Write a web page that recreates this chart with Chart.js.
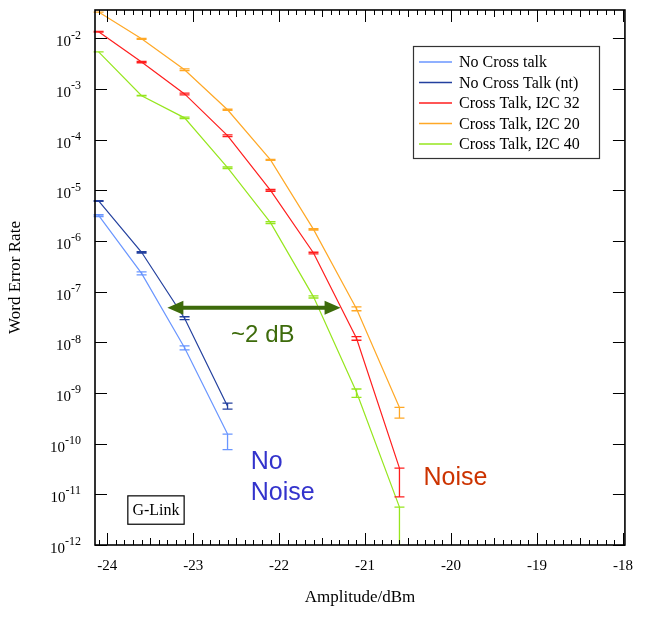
<!DOCTYPE html>
<html>
<head>
<meta charset="utf-8">
<script src="https://cdn.jsdelivr.net/npm/chart.js@4.4.1/dist/chart.umd.min.js"></script>
<style>
  html, body { margin: 0; padding: 0; background: #fff; }
  #wrap { width: 645px; height: 617px; }
</style>
</head>
<body>
<div id="wrap"><canvas id="werChart"></canvas></div>
<script>
// amplitude points (dBm) and word error rates
const amplitudes = [-24.1, -23.6, -23.1, -22.6, -22.1, -21.6, -21.1, -20.6];
const seriesNames = ['No Cross talk', 'No Cross Talk (nt)', 'Cross Talk, I2C 32', 'Cross Talk, I2C 20', 'Cross Talk, I2C 40'];

const noCrossTalk   = [3.2e-6, 2.3e-7, 7.8e-9, 1.55e-10];
const noCrossTalkLo = [3.05e-6, 2.15e-7, 7.1e-9, 7.6e-11];
const noCrossTalkHi = [3.3e-6, 2.45e-7, 8.5e-9, 1.55e-10];

const noCrossTalkNt   = [6.2e-6, 6.0e-7, 3.0e-8, 5.5e-10];
const noCrossTalkNtLo = [6.1e-6, 5.8e-7, 2.8e-8, 4.8e-10];
const noCrossTalkNtHi = [6.3e-6, 6.2e-7, 3.2e-8, 6.3e-10];

const i2c32   = [1.35e-2, 3.4e-3, 8.0e-4, 1.2e-4, 1.0e-5, 5.8e-7, 1.2e-8, 3.3e-11];
const i2c32Lo = [1.33e-2, 3.3e-3, 7.7e-4, 1.15e-4, 9.6e-6, 5.6e-7, 1.1e-8, 8.9e-12];
const i2c32Hi = [1.37e-2, 3.5e-3, 8.3e-4, 1.25e-4, 1.04e-5, 6.0e-7, 1.3e-8, 3.3e-11];

const i2c20   = [3.3e-2, 9.8e-3, 2.4e-3, 3.9e-4, 4.0e-5, 1.7e-6, 4.6e-8, 5.2e-10];
const i2c20Lo = [3.3e-2, 9.6e-3, 2.3e-3, 3.8e-4, 3.9e-5, 1.65e-6, 4.2e-8, 3.2e-10];
const i2c20Hi = [3.3e-2, 1.0e-2, 2.5e-3, 4.0e-4, 4.1e-5, 1.75e-6, 5.0e-8, 5.2e-10];

const i2c40   = [5.4e-3, 7.4e-4, 2.7e-4, 2.8e-5, 2.3e-6, 7.9e-8, 1.05e-9, 5.6e-12];
const i2c40Lo = [5.4e-3, 7.3e-4, 2.6e-4, 2.7e-5, 2.2e-6, 7.5e-8, 8.2e-10, 1e-13];
const i2c40Hi = [5.4e-3, 7.5e-4, 2.8e-4, 2.9e-5, 2.4e-6, 8.3e-8, 1.2e-9, 5.6e-12];

const xTickValues = [-24, -23, -22, -21, -20, -19, -18];
const yTickExps = [-2, -3, -4, -5, -6, -7, -8, -9, -10, -11, -12];

const colors = ['#6a96ff', '#23409e', '#ff1e1e', '#ffa826', '#96e61e'];
const serif = "'Liberation Serif', 'Times New Roman', serif";
const sans = "'Liberation Sans', Arial, sans-serif";

const allValues = [noCrossTalk, noCrossTalkNt, i2c32, i2c20, i2c40];
const allLo = [noCrossTalkLo, noCrossTalkNtLo, i2c32Lo, i2c20Lo, i2c40Lo];
const allHi = [noCrossTalkHi, noCrossTalkNtHi, i2c32Hi, i2c20Hi, i2c40Hi];

const datasets = allValues.map((vals, i) => ({
  label: seriesNames[i],
  data: vals.map((v, j) => ({ x: amplitudes[j], y: v })),
  borderColor: colors[i],
  backgroundColor: colors[i],
  borderWidth: 1.2,
  pointRadius: 0,
  tension: 0
}));

// error bars, ticks, frame, legend and notes
const decorPlugin = {
  id: 'decor',
  afterDatasetsDraw(chart) {
    const ctx = chart.ctx, xs = chart.scales.x, ys = chart.scales.y, a = chart.chartArea;
    ctx.save();
    ctx.beginPath();
    ctx.rect(a.left - 6, a.top, a.right - a.left + 12, a.bottom - a.top);
    ctx.clip();
    allValues.forEach((vals, i) => {
      ctx.strokeStyle = colors[i];
      ctx.lineWidth = 1.3;
      vals.forEach((v, j) => {
        const px = xs.getPixelForValue(amplitudes[j]);
        const pLo = ys.getPixelForValue(allLo[i][j]);
        const pHi = ys.getPixelForValue(allHi[i][j]);
        ctx.beginPath();
        ctx.moveTo(px, pLo); ctx.lineTo(px, pHi);
        ctx.moveTo(px - 5, pLo); ctx.lineTo(px + 5, pLo);
        ctx.moveTo(px - 5, pHi); ctx.lineTo(px + 5, pHi);
        ctx.stroke();
      });
    });
    ctx.restore();
  },
  afterDraw(chart) {
    const ctx = chart.ctx, xs = chart.scales.x, ys = chart.scales.y, a = chart.chartArea;
    ctx.save();
    // ticks
    ctx.strokeStyle = '#000';
    ctx.lineWidth = 1;
    ctx.beginPath();
    for (let k = -241; k <= -180; k++) {
      const px = Math.round(xs.getPixelForValue(k / 10)) + 0.5;
      const len = k % 10 === 0 ? 12 : (k % 5 === 0 ? 7 : 5);
      ctx.moveTo(px, a.bottom); ctx.lineTo(px, a.bottom - len);
      ctx.moveTo(px, a.top); ctx.lineTo(px, a.top + len);
    }
    yTickExps.forEach(e => {
      const py = Math.round(ys.getPixelForValue(Math.pow(10, e))) + 0.5;
      ctx.moveTo(a.left, py); ctx.lineTo(a.left + 12, py);
      ctx.moveTo(a.right, py); ctx.lineTo(a.right - 12, py);
    });
    ctx.stroke();
    // frame
    ctx.lineWidth = 1.6;
    ctx.strokeRect(a.left, a.top, a.right - a.left, a.bottom - a.top);

    // y tick labels 10^n
    ctx.fillStyle = '#000';
    ctx.textBaseline = 'middle';
    ctx.textAlign = 'right';
    yTickExps.forEach(e => {
      const py = ys.getPixelForValue(Math.pow(10, e));
      const sup = '-' + Math.abs(e);
      ctx.font = '12px ' + serif;
      const w = ctx.measureText(sup).width;
      ctx.fillText(sup, a.left - 14, py - 3);
      ctx.font = '15px ' + serif;
      ctx.fillText('10', a.left - 14 - w, py + 4);
    });

    // legend
    const lx = 413, ly = 46;
    ctx.lineWidth = 1.2;
    ctx.strokeStyle = '#333';
    ctx.strokeRect(lx + 0.5, ly + 0.5, 186, 112);
    ctx.textAlign = 'left';
    ctx.font = '16px ' + serif;
    seriesNames.forEach((name, i) => {
      const ry = 62 + i * 20.5;
      ctx.strokeStyle = colors[i];
      ctx.lineWidth = 1.5;
      ctx.beginPath();
      ctx.moveTo(419, ry); ctx.lineTo(452, ry);
      ctx.stroke();
      ctx.fillStyle = '#000';
      ctx.fillText(name, 459, ry + 1);
    });

    // ~2 dB arrow
    const green = '#3d6b0b';
    const ay = ys.getPixelForValue(4.8e-8);
    const ax1 = xs.getPixelForValue(-23.3), ax2 = xs.getPixelForValue(-21.285);
    ctx.strokeStyle = green; ctx.fillStyle = green;
    ctx.lineWidth = 4;
    ctx.beginPath();
    ctx.moveTo(ax1 + 12, ay); ctx.lineTo(ax2 - 12, ay);
    ctx.stroke();
    ctx.beginPath();
    ctx.moveTo(ax1, ay); ctx.lineTo(ax1 + 16, ay - 7); ctx.lineTo(ax1 + 16, ay + 7); ctx.closePath();
    ctx.moveTo(ax2, ay); ctx.lineTo(ax2 - 16, ay - 7); ctx.lineTo(ax2 - 16, ay + 7); ctx.closePath();
    ctx.fill();
    ctx.font = '24px ' + sans;
    ctx.textAlign = 'center';
    ctx.fillText('~2 dB', xs.getPixelForValue(-22.19), ys.getPixelForValue(Math.pow(10, -7.87)));

    // noise labels
    ctx.textAlign = 'left';
    ctx.font = '25px ' + sans;
    ctx.fillStyle = '#3333cc';
    const nx = xs.getPixelForValue(-22.33);
    ctx.fillText('No', nx, ys.getPixelForValue(Math.pow(10, -10.36)));
    ctx.fillText('Noise', nx, ys.getPixelForValue(Math.pow(10, -10.97)));
    ctx.fillStyle = '#cc3300';
    ctx.fillText('Noise', xs.getPixelForValue(-20.32), ys.getPixelForValue(Math.pow(10, -10.68)));

    // G-Link box
    const gx1 = xs.getPixelForValue(-23.76), gx2 = xs.getPixelForValue(-23.105);
    const gy1 = ys.getPixelForValue(Math.pow(10, -11.03)), gy2 = ys.getPixelForValue(Math.pow(10, -11.59));
    ctx.strokeStyle = '#000'; ctx.lineWidth = 1.2;
    ctx.strokeRect(gx1, gy1, gx2 - gx1, gy2 - gy1);
    ctx.fillStyle = '#000';
    ctx.font = '16px ' + serif;
    ctx.textAlign = 'center';
    ctx.fillText('G-Link', (gx1 + gx2) / 2, (gy1 + gy2) / 2 + 1);
    ctx.restore();
  }
};

document.addEventListener('DOMContentLoaded', () => {
  new Chart(document.getElementById('werChart').getContext('2d'), {
    type: 'line',
    data: { datasets: datasets },
    options: {
      responsive: true,
      maintainAspectRatio: false,
      animation: false,
      layout: { padding: { top: 10, right: 15, left: 0, bottom: 0 } },
      plugins: { legend: { display: false }, tooltip: { enabled: false } },
      scales: {
        x: {
          type: 'linear',
          min: -24.142,
          max: -17.977,
          afterBuildTicks: s => { s.ticks = xTickValues.map(v => ({ value: v })); },
          afterFit: s => { s.height = 72; },
          ticks: { padding: 12, color: '#000', font: { family: serif, size: 15 }, maxRotation: 0 },
          grid: { display: false, drawTicks: false },
          border: { display: false },
          title: { display: true, text: 'Amplitude/dBm', color: '#000', font: { family: serif, size: 17 }, padding: { top: 0, bottom: 9 } }
        },
        y: {
          type: 'logarithmic',
          min: 1e-12,
          max: Math.pow(10, -1.44),
          afterBuildTicks: s => { s.ticks = yTickExps.map(e => ({ value: Math.pow(10, e) })); },
          afterFit: s => { s.width = 95; },
          ticks: { display: false },
          grid: { display: false, drawTicks: false },
          border: { display: false },
          title: { display: true, text: 'Word Error Rate', color: '#000', font: { family: serif, size: 17 }, padding: { top: 5, bottom: 0 } }
        }
      }
    },
    plugins: [decorPlugin]
  });
});
</script>
</body>
</html>
